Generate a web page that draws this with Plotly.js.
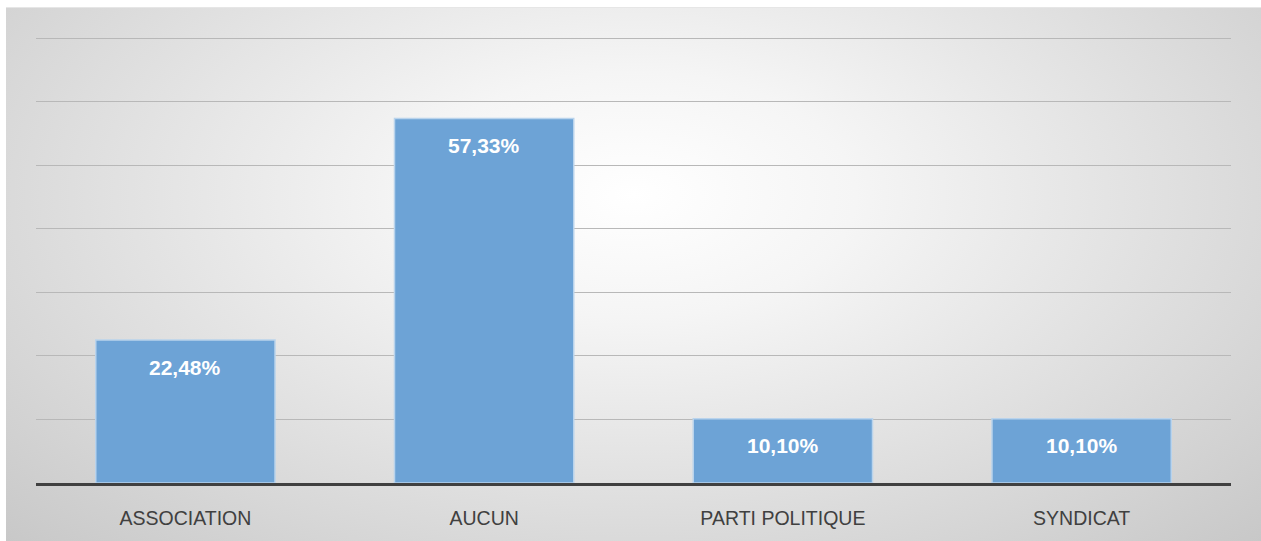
<!DOCTYPE html>
<html>
<head>
<meta charset="utf-8">
<script src="https://cdn.plot.ly/plotly-3.0.1.min.js"></script>
<style>
  html, body { margin: 0; padding: 0; background: #ffffff; }
  #bg { position: absolute; left: 6px; top: 7px; width: 1255px; height: 534px;
        background: radial-gradient(ellipse farthest-corner at 50% 35%, #ffffff 0%, #f5f5f5 25%, #e0e0e0 60%, #c8c8c8 100%);
        border-top: 1px solid #e6e6e6; }
  #chart { position: absolute; left: 0; top: 0; width: 1261px; height: 541px; }
</style>
</head>
<body>
<div id="bg"></div>
<div id="chart"></div>
<script>
const categories = ["ASSOCIATION", "AUCUN", "PARTI POLITIQUE", "SYNDICAT"];
const values = [22.48, 57.33, 10.10, 10.10];
const valueLabels = ["22,48%", "57,33%", "10,10%", "10,10%"];
const yTicks = [0, 10, 20, 30, 40, 50, 60, 70];

const trace = {
  type: "bar",
  x: categories,
  y: values,
  width: 0.6,
  marker: { color: "#6da3d6", line: { color: "#b9d3ec", width: 1.5 } },
  textposition: "none",
  hoverinfo: "skip"
};

const annotations = categories.map((c, i) => ({
  x: c, y: values[i], xref: "x", yref: "y",
  text: "<b>" + valueLabels[i] + "</b>", showarrow: false,
  yanchor: "middle", yshift: -27,
  font: { family: "Liberation Sans, Arial, sans-serif", size: 21, color: "#ffffff" }
}));

const layout = {
  width: 1261, height: 541,
  margin: { l: 35.5, r: 29.5, t: 37, b: 58, pad: 0 },
  paper_bgcolor: "rgba(0,0,0,0)",
  plot_bgcolor: "rgba(0,0,0,0)",
  showlegend: false,
  bargap: 0.4,
  xaxis: {
    type: "category",
    showline: true, linecolor: "#404040", linewidth: 3,
    ticks: "outside", ticklen: 16, tickcolor: "rgba(0,0,0,0)",
    tickfont: { family: "Liberation Sans, Arial, sans-serif", size: 19.5, color: "#404040" },
    showgrid: false, zeroline: false, fixedrange: true
  },
  yaxis: {
    range: [0, 70.16],
    tickvals: yTicks,
    showticklabels: false,
    showgrid: true, gridcolor: "#b8b8b8", gridwidth: 1,
    zeroline: false, showline: false, fixedrange: true
  },
  annotations: annotations
};

Plotly.newPlot("chart", [trace], layout, { displayModeBar: false, staticPlot: true });
</script>
</body>
</html>
